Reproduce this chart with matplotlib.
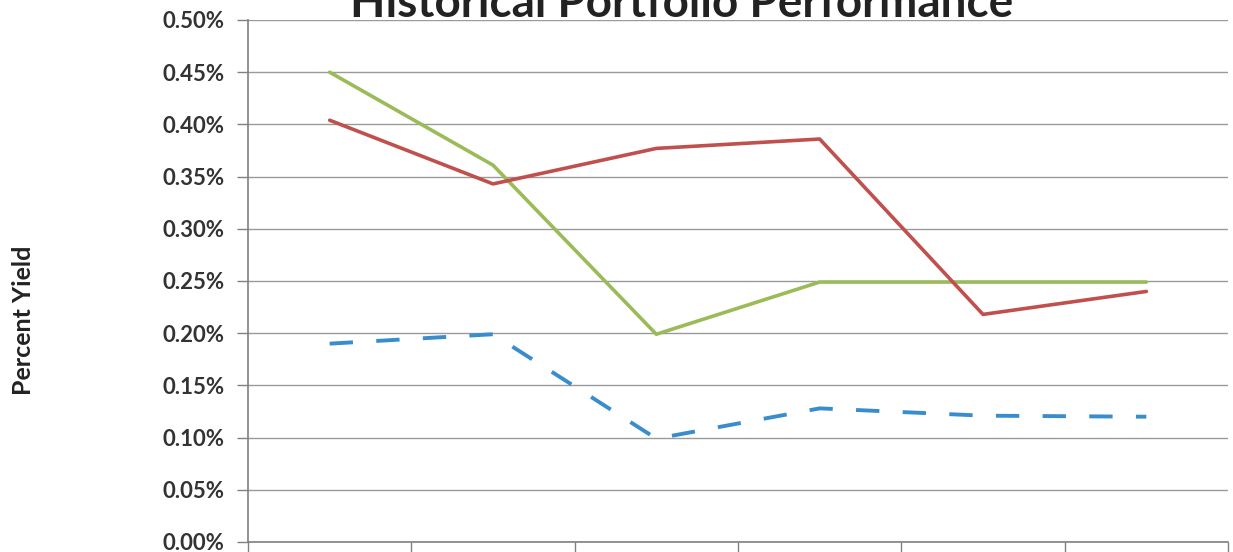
import matplotlib
matplotlib.use("Agg")
import matplotlib.pyplot as plt
from matplotlib.ticker import FuncFormatter, MultipleLocator, FixedLocator

# values (percent yield)
periods = ["P1", "P2", "P3", "P4", "P5", "P6"]
green = [0.450, 0.361, 0.199, 0.249, 0.249, 0.249]
red = [0.404, 0.343, 0.377, 0.386, 0.218, 0.240]
blue = [0.190, 0.199, 0.099, 0.128, 0.121, 0.120]

plt.rcParams['font.family'] = ['Lato', 'DejaVu Sans']

fig = plt.figure(figsize=(12.33, 5.52), dpi=100)
ax = fig.add_axes([248/1233, 1-542/552, (1228-248)/1233, (542-20)/552])

x = range(len(periods))
ax.plot(x, green, color='#9BBB59', lw=2.6, solid_capstyle='round', zorder=3)
ax.plot(x, red, color='#C0504D', lw=2.6, solid_capstyle='round', zorder=3)
ax.plot(x, blue, color='#3A8DCB', lw=2.8, linestyle=(0, (6, 6)), zorder=3)

ax.set_xlim(-0.5, len(periods) - 0.5)
ax.set_ylim(0, 0.5)
ax.yaxis.set_major_locator(MultipleLocator(0.05))
ax.yaxis.set_major_formatter(FuncFormatter(lambda v, p: f"{v:.2f}%"))
ax.grid(axis='y', color='#9a9a9a', lw=1.0)
ax.set_axisbelow(True)

ax.xaxis.set_major_locator(FixedLocator([i - 0.5 for i in range(len(periods) + 1)]))
ax.set_xticklabels([])
ax.tick_params(axis='x', direction='out', length=14, color='#808080', width=1)
ax.tick_params(axis='y', direction='out', length=8, color='#808080', width=1,
               labelsize=16, labelcolor='#333333', pad=9)
for lbl in ax.get_yticklabels():
    lbl.set_fontweight('bold')

for s in ['top', 'right']:
    ax.spines[s].set_visible(False)
for s in ['left', 'bottom']:
    ax.spines[s].set_color('#808080')
    ax.spines[s].set_linewidth(1.2)

fig.text(24/1233, 1-320/552, "Percent Yield", rotation=90, ha='center', va='center',
         fontsize=18, fontweight='bold', color='#222222')
fig.text(682/1233, 1-17/552, "Historical Portfolio Performance", ha='center', va='baseline',
         fontsize=33, fontweight='bold', color='#222222')

fig.savefig("out.png", dpi=100)
